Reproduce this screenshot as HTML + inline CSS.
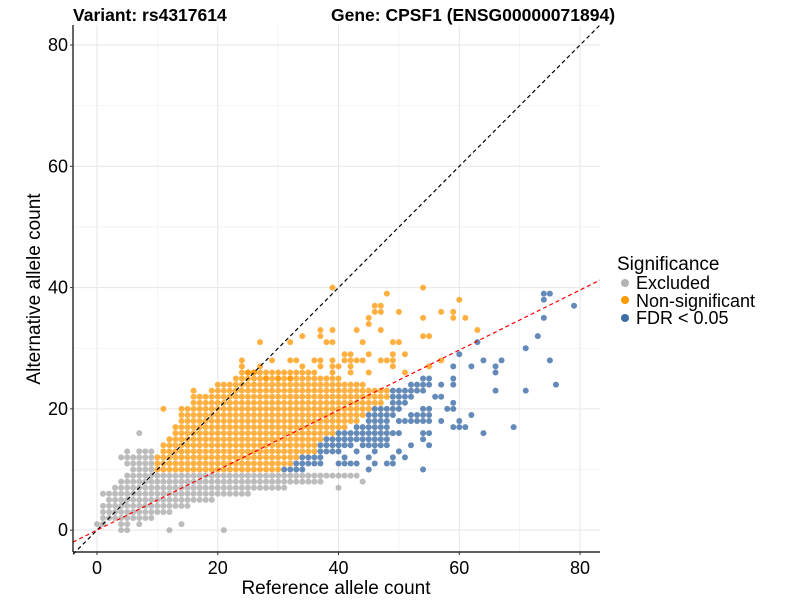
<!DOCTYPE html>
<html><head><meta charset="utf-8">
<style>
html,body{margin:0;padding:0;background:#fff;}
svg{display:block;font-family:"Liberation Sans",Arial,sans-serif;}
</style></head>
<body>
<svg id="chart" width="800" height="600" viewBox="0 0 800 600" xmlns="http://www.w3.org/2000/svg">
  <rect width="800" height="600" fill="#fff"/>
  <g id="grid"></g>
  <g id="points"></g>
  <g id="reflines"></g>
  <g id="axes"></g>
  <text x="73" y="21" font-size="17.5" font-weight="bold">Variant: rs4317614</text>
  <text x="331" y="21" font-size="17.5" font-weight="bold">Gene: CPSF1 (ENSG00000071894)</text>
  <text x="336" y="594" font-size="19" text-anchor="middle">Reference allele count</text>
  <text transform="translate(40,289) rotate(-90)" font-size="19" text-anchor="middle">Alternative allele count</text>
  <g>
    <text x="617" y="270" font-size="19">Significance</text>
    <circle cx="625" cy="283" r="4" fill="#b3b3b3"/>
    <text x="636" y="289" font-size="18">Excluded</text>
    <circle cx="625" cy="300" r="4" fill="#ff9900"/>
    <text x="636" y="307" font-size="18">Non-significant</text>
    <circle cx="625" cy="318" r="4" fill="#3a6ea5"/>
    <text x="636" y="324" font-size="18">FDR &lt; 0.05</text>
  </g>
</svg>
<script>
// ---- data ----
const xTicks = [0, 20, 40, 60, 80];
const yTicks = [0, 20, 40, 60, 80];
const minorTicks = [10, 30, 50, 70];
const redSlope = 0.495;
// runs: [altCount, refStart, refEnd]
const excludedRuns = [[0,4,5],[1,0,1],[1,4,5],[1,7,7],[1,14,14],[2,1,9],[3,1,12],[4,1,15],[5,2,19],[6,1,25],[7,3,31],[8,4,37],[9,5,43],[10,6,9],[11,5,9],[12,4,9],[13,7,9]];
const excludedPoints = [[7,16],[5,13],[40,7],[44,8],[21,0],[12,0]];
const nonsigRuns = [[10,10,30],[11,10,32],[12,10,33],[13,11,36],[14,11,36],[15,12,37],[16,13,39],[17,13,41],[18,14,43],[19,14,44],[20,15,45],[21,16,47],[22,18,48],[23,19,48],[24,22,44],[25,23,40],[26,24,36]];
const nonsigPoints = [[11,20],[14,20],[16,22],[17,22],[20,24],[21,24],[16,23],[24,27],[25,26],[26,26],[27,27],[24,28],[29,28],[32,28],[33,28],[36,28],[37,28],[39,28],[41,28],[42,28],[43,28],[44,28],[47,28],[48,28],[49,28],[57,28],[34,27],[37,27],[39,27],[40,27],[42,27],[49,27],[55,27],[39,26],[42,26],[45,26],[51,26],[41,29],[42,29],[45,29],[49,29],[51,29],[27,31],[32,31],[38,31],[39,31],[44,31],[49,31],[50,31],[34,32],[37,32],[54,32],[55,32],[37,33],[39,33],[43,33],[47,33],[63,33],[45,34],[45,35],[54,35],[59,35],[61,35],[46,36],[47,36],[50,36],[57,36],[59,36],[46,37],[47,37],[60,38],[48,39],[39,40],[54,40],[28,25],[30,25],[32,25]];
const fdrRuns = [[10,31,34],[11,33,37],[11,40,43],[12,34,37],[13,37,40],[14,37,42],[14,44,48],[15,38,48],[16,40,50],[17,43,48],[18,45,48],[18,50,55],[19,45,49],[19,52,55],[20,46,50],[21,49,51],[22,49,52],[23,49,54],[24,52,55]];
const fdrPoints = [[45,10],[54,10],[46,11],[48,11],[49,11],[41,12],[45,12],[49,12],[51,12],[43,13],[46,13],[50,13],[52,14],[55,14],[54,15],[54,16],[55,16],[64,16],[59,17],[60,17],[61,17],[69,17],[57,18],[60,18],[62,19],[54,20],[55,20],[58,20],[59,20],[59,21],[56,22],[57,22],[66,23],[71,23],[57,24],[59,24],[76,24],[54,25],[55,25],[59,25],[66,26],[59,27],[62,27],[66,27],[64,28],[67,28],[75,28],[60,29],[71,30],[63,31],[73,32],[74,35],[74,38],[79,37],[74,39],[75,39]];

// ---- scales ----
const X0 = 73, X1 = 600, Y0 = 552, Y1 = 25;
const xMin = -3.97, xMax = 83.3, yMin = -3.6, yMax = 83.3;
const sx = v => X0 + (v - xMin) / (xMax - xMin) * (X1 - X0);
const sy = v => Y0 - (v - yMin) / (yMax - yMin) * (Y0 - Y1);
const NS = "http://www.w3.org/2000/svg";
function mk(tag, attrs, parent){ const e=document.createElementNS(NS,tag); for(const k in attrs) e.setAttribute(k,attrs[k]); parent.appendChild(e); return e; }

const grid = document.getElementById('grid');
minorTicks.forEach(t=>{
  const a = mk('line',{x1:sx(t),x2:sx(t),y1:Y1,y2:Y0,stroke:'#f2f2f2','stroke-width':0.8},grid);
   
  const b = mk('line',{x1:X0,x2:X1,y1:sy(t),y2:sy(t),stroke:'#f2f2f2','stroke-width':0.8},grid);
   
});
xTicks.forEach(t=>{
  const a = mk('line',{x1:sx(t),x2:sx(t),y1:Y1,y2:Y0,stroke:'#e6e6e6','stroke-width':1},grid);
   
});
yTicks.forEach(t=>{
  const b = mk('line',{x1:X0,x2:X1,y1:sy(t),y2:sy(t),stroke:'#e6e6e6','stroke-width':1},grid);
   
});

const pts = document.getElementById('points');
function dot(x,y,fill,name){
  const c = mk('circle',{cx:sx(x),cy:sy(y),r:3,fill:fill,'fill-opacity':0.75},pts);
  
  
}
function runs(list,fill,name){ list.forEach(r=>{ for(let x=r[1];x<=r[2];x++) dot(x,r[0],fill,name); }); }
runs(excludedRuns,'#a6a6a6','point-excluded');
excludedPoints.forEach(p=>dot(p[0],p[1],'#a6a6a6','point-excluded'));
runs(nonsigRuns,'#ff9500','point-non-significant');
nonsigPoints.forEach(p=>dot(p[0],p[1],'#ff9500','point-non-significant'));
runs(fdrRuns,'#2f63a0','point-fdr');
fdrPoints.forEach(p=>dot(p[0],p[1],'#2f63a0','point-fdr'));

const rl = document.getElementById('reflines');
const idl = mk('line',{x1:sx(-3.97),y1:sy(-3.97),x2:sx(83.3),y2:sy(83.3),stroke:'#000','stroke-width':1.2,'stroke-dasharray':'4,3'},rl);
 
const rd = mk('line',{x1:sx(xMin),y1:sy(xMin*redSlope),x2:sx(xMax),y2:sy(xMax*redSlope),stroke:'#ff0000','stroke-width':1.2,'stroke-dasharray':'4,3'},rl);
 

const ax = document.getElementById('axes');
const la = mk('line',{x1:X0,x2:X0,y1:Y1,y2:Y0,stroke:'#000','stroke-width':1.2},ax);
 
const ba = mk('line',{x1:X0,x2:X1,y1:Y0,y2:Y0,stroke:'#000','stroke-width':1.2},ax);
 
xTicks.forEach(t=>{
  const tk = mk('line',{x1:sx(t),x2:sx(t),y1:Y0,y2:Y0+3,stroke:'#333'},ax);
   
  const lb = mk('text',{x:sx(t),y:Y0+22,'font-size':18,'text-anchor':'middle'},ax);
  lb.textContent = t;
   
});
yTicks.forEach(t=>{
  const tk = mk('line',{x1:X0-3,x2:X0,y1:sy(t),y2:sy(t),stroke:'#333'},ax);
   
  const lb = mk('text',{x:X0-5,y:sy(t)+6,'font-size':18,'text-anchor':'end'},ax);
  lb.textContent = t;
   
});
</script>
</body></html>
